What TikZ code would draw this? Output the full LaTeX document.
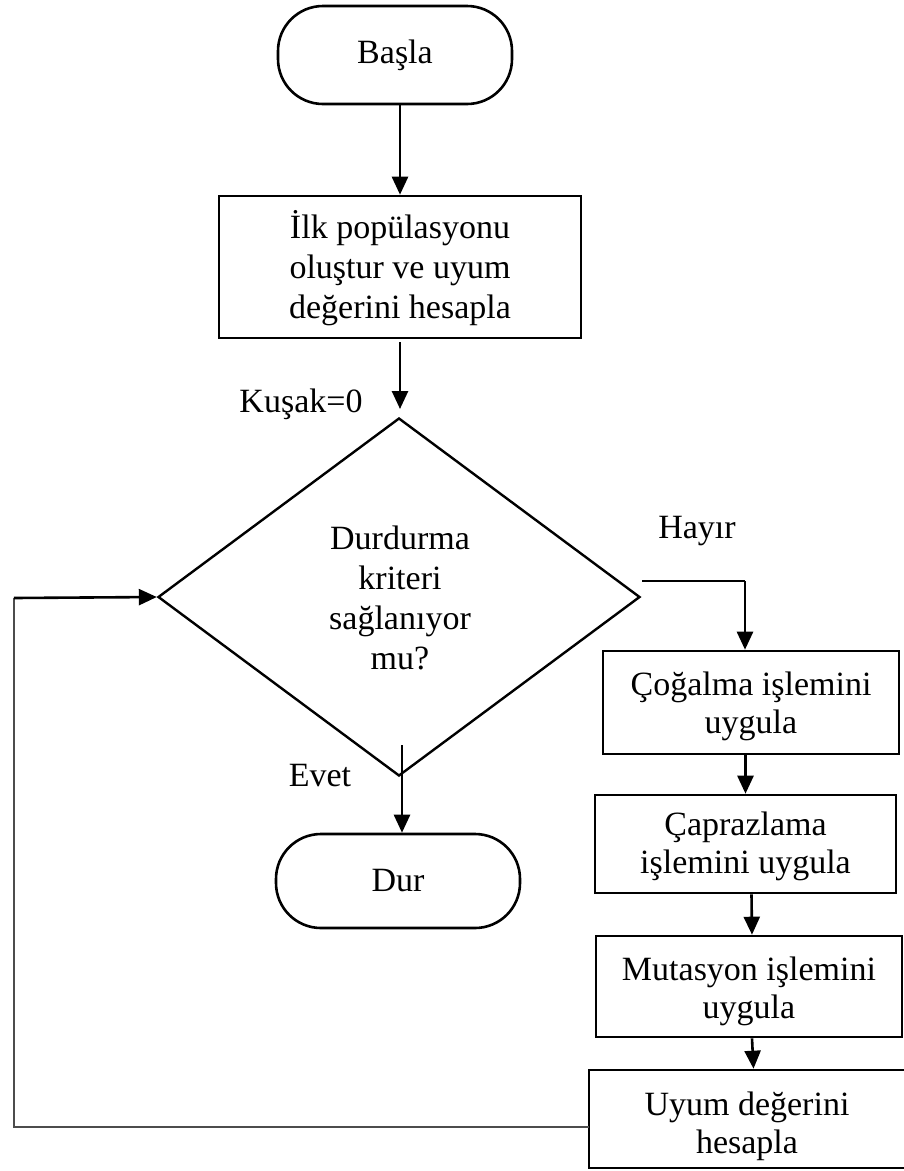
\documentclass[tikz,border=0pt]{standalone}
\usepackage{fontspec}
\setmainfont{Liberation Serif}
\usetikzlibrary{arrows.meta,shapes.geometric}

\begin{document}
\begin{tikzpicture}[x=1pt,y=-1pt,
  every node/.style={inner sep=0pt, align=center},
  txt/.style={font=\fontsize{34}{38}\selectfont},
  widetxt/.style={font=\fontsize{34}{40}\selectfont},
  flow/.style={line width=2.6pt, black},
  arr/.style={flow, -{Triangle[length=18pt,width=16pt]}},
  fine/.style={line width=1.5pt, black},
  back/.style={line width=1.6pt, black!70},
  stepbox/.style={draw, line width=2.6pt, rectangle},
  term/.style={draw, line width=2.6pt, rectangle, rounded corners=45pt, txt},
  decision/.style={draw, line width=2.4pt, diamond},
  lbl/.style={txt}
]
\useasboundingbox (0,0) rectangle (904,1171);

% terminals
\node[term, minimum width=234pt, minimum height=98pt] (start) at (395,55) {Başla};
\node[term, minimum width=244pt, minimum height=94pt] (stop) at (398,881) {Dur};

% initial population
\node[stepbox, minimum width=362pt, minimum height=142pt] (init) at (400,267) {};
\node[widetxt] (initTxt) at (400,268) {İlk popülasyonu\\oluştur ve uyum\\değerini hesapla};

% stopping test
\node[decision, minimum width=482pt, minimum height=358pt] (test) at (399,597) {};
\node[widetxt] (testTxt) at (400,598) {Durdurma\\kriteri\\sağlanıyor\\mu?};

% genetic operators
\node[stepbox, minimum width=296pt, minimum height=103pt] (repro) at (751,702.5) {};
\node[txt] (reproTxt) at (751,706) {Çoğalma işlemini\\uygula};
\node[stepbox, minimum width=301pt, minimum height=98pt] (cross) at (745.5,844) {};
\node[txt] (crossTxt) at (745.5,846) {Çaprazlama\\işlemini uygula};
\node[stepbox, minimum width=306pt, minimum height=101pt] (mut) at (749,986.5) {};
\node[txt] (mutTxt) at (749,991) {Mutasyon işlemini\\uygula};
\node[stepbox, minimum width=321pt, minimum height=98pt] (fit) at (749.5,1119) {};
\node[txt] (fitTxt) at (747,1126) {Uyum değerini\\hesapla};

% labels
\node[lbl] (gen) at (301,404) {Kuşak=0};
\node[lbl] (no) at (697,531) {Hayır};
\node[lbl] (yes) at (320,776) {Evet};

% helper points
\coordinate (initOut) at (400,342);
\coordinate (testIn) at (400,409);
\coordinate (noOut) at (642,581);
\coordinate (noBend) at (745,581);
\coordinate (yesOut) at (402,745);
\coordinate (fitOut) at (589,1127);
\coordinate (loopLow) at (14,1127);
\coordinate (loopHigh) at (14,598);

% main flow
\draw[arr] (start.south -| init.north) -- (init.north);
\draw[arr] (initOut) -- (testIn);
\draw[arr] (yesOut) -- (yesOut |- stop.north);
\draw[fine] (noOut) -- (noBend);
\draw[arr] (noBend) -- (noBend |- repro.north);
\draw[arr] (repro.south -| cross.north) -- (cross.north);
\draw[arr] ([xshift=6pt]cross.south) -- ([xshift=3pt]mut.north);
\draw[arr] ([xshift=3pt]mut.south) -- ([xshift=4pt]fit.north);

% loop back to the test
\draw[back] (fitOut) -- (loopLow) -- (loopHigh);
\draw[arr] (loopHigh) -- (test.west);
\end{tikzpicture}
\end{document}
